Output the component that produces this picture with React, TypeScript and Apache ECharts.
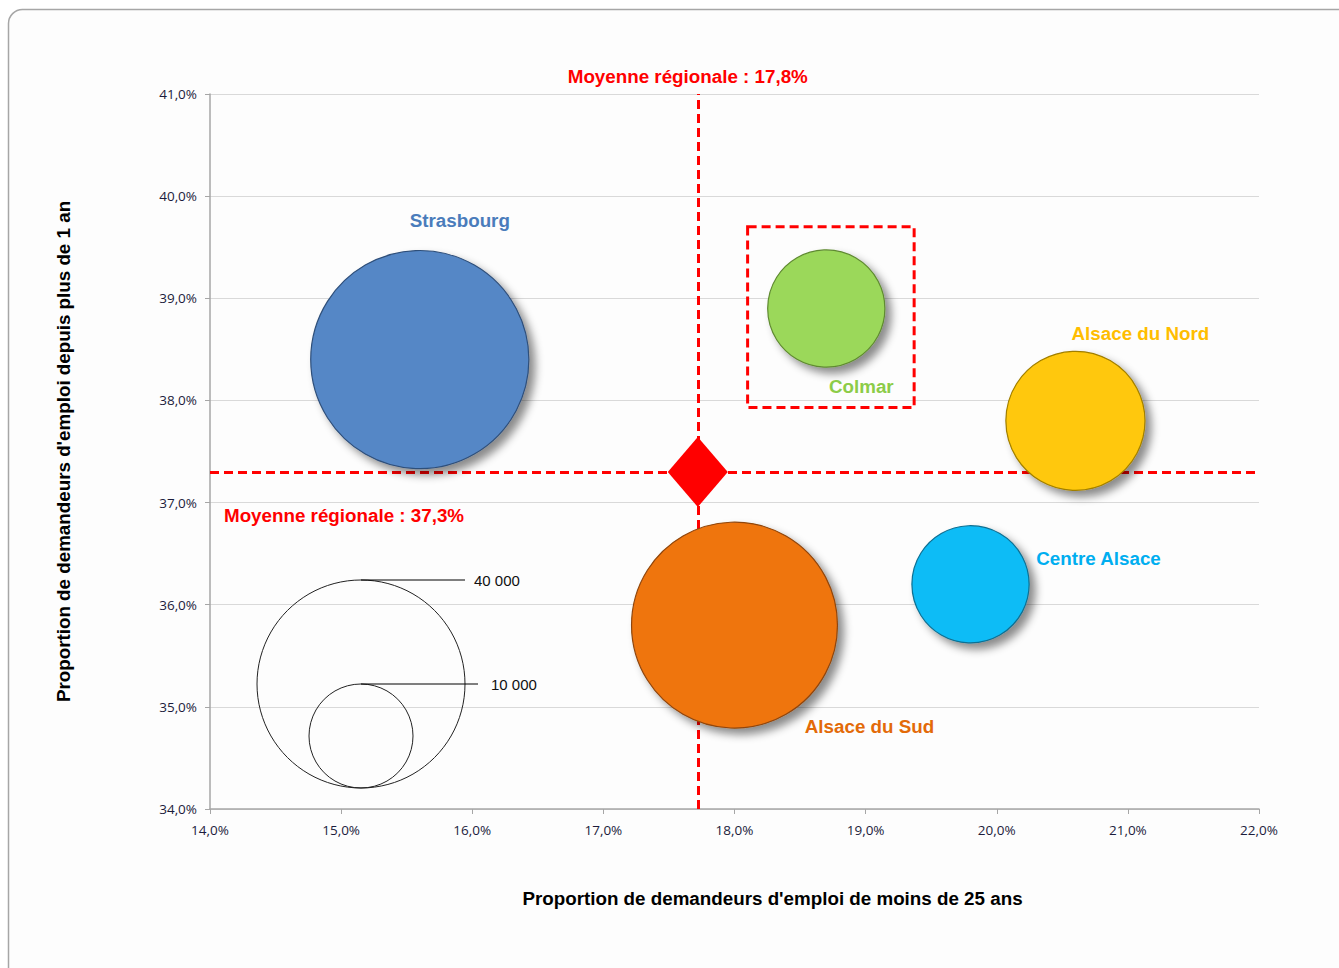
import React, { useEffect, useRef } from 'react';
import * as echarts from 'echarts';

// ---- Data ----
const regionNames = ['Strasbourg', 'Colmar', 'Alsace du Nord', 'Centre Alsace', 'Alsace du Sud'];
const youthShare = [15.6, 18.7, 20.6, 19.8, 18.0]; // % moins de 25 ans
const longTermShare = [38.4, 38.9, 37.8, 36.2, 35.8]; // % depuis plus de 1 an
const jobSeekers = [44000, 12700, 17900, 12700, 39200]; // bubble size
const fillColors = ['#5587c6', '#9bd85a', '#ffc808', '#0abcf6', '#ef7510'];
const borderColors = ['#2f4f7a', '#5f8a30', '#a07e00', '#0a6f92', '#8f4508'];
const labelColors = ['#4a7cbb', '#8ccc48', '#ffbd00', '#00aef0', '#e36a08'];
const labelOffsets: [number, number][] = [[40, -139], [35, 78], [65, -87], [128, -26], [135, 101]];

const meanYouth = 17.72;
const meanYouthLabel = 'Moyenne régionale : 17,8%';
const meanLongTerm = 37.3;
const meanLongTermLabel = 'Moyenne régionale : 37,3%';

const legendValues = [40000, 10000];
const legendLabels = ['40 000', '10 000'];

// Highlight box around Colmar (data coords)
const boxX = [18.1, 19.37];
const boxY = [37.93, 39.7];

const xMin = 14, xMax = 22, yMin = 34, yMax = 41;

const pct = (v: number) => v.toFixed(1).replace('.', ',') + '%';
const radius = (v: number) => 0.52 * Math.sqrt(v);
const FONT = 'Liberation Sans, Arial, sans-serif';
const BIG = 18.8;

export default function App() {
  const ref = useRef<HTMLDivElement>(null);
  useEffect(() => {
    const chart = echarts.init(ref.current!, null, { renderer: 'svg' });

    const bubbleData = regionNames.map((name, i) => ({
      name,
      value: [youthShare[i], longTermShare[i], jobSeekers[i]],
      symbolSize: 2 * radius(jobSeekers[i]),
      itemStyle: {
        color: fillColors[i],
        opacity: 1,
        borderColor: borderColors[i],
        borderWidth: 1.2,
        shadowBlur: 8,
        shadowOffsetX: 6,
        shadowOffsetY: 6,
        shadowColor: 'rgba(0,0,0,0.45)',
      },
      label: {
        show: true,
        position: 'inside',
        offset: labelOffsets[i],
        formatter: name,
        color: labelColors[i],
        fontFamily: FONT,
        fontWeight: 'bold',
        fontSize: BIG,
      },
    }));

    // legend circles (decoration)
    const lcx = 361;
    const lbottom = 788;
    const legendGraphics: any[] = [];
    legendValues.forEach((v, i) => {
      const r = radius(v);
      const cy = lbottom - r;
      const top = cy - r;
      const lineEnd = i === 0 ? 465 : 478;
      legendGraphics.push({
        type: 'circle', shape: { cx: lcx, cy, r }, z: 10,
        style: { fill: 'none', stroke: '#222', lineWidth: 1 },
      });
      legendGraphics.push({
        type: 'line', shape: { x1: lcx, y1: top, x2: lineEnd, y2: top }, z: 10,
        style: { stroke: '#000', lineWidth: 1 },
      });
      legendGraphics.push({
        type: 'text', x: lineEnd + (i === 0 ? 9 : 13), y: top, z: 10,
        style: {
          text: legendLabels[i], fill: '#111', font: '15px "Liberation Sans", Arial, sans-serif',
          verticalAlign: 'middle', align: 'left',
        },
      });
    });

    const option: any = {
      animation: false,
      backgroundColor: '#ffffff',
      grid: { left: 210, right: 80, top: 94, bottom: 159 },
      graphic: [
        {
          type: 'rect', z: -10, silent: true,
          shape: { x: 8.5, y: 9.5, width: 1400, height: 1000, r: 14 },
          style: { fill: '#fdfdfd', stroke: '#a6a6a6', lineWidth: 1.5 },
        },
        ...legendGraphics,
      ],
      xAxis: {
        type: 'value', min: xMin, max: xMax, interval: 1,
        name: "Proportion de demandeurs d'emploi de moins de 25 ans",
        nameLocation: 'middle', nameGap: 80,
        nameTextStyle: { fontFamily: FONT, fontWeight: 'bold', fontSize: BIG, color: '#000', padding: [0, 0, 0, 76] },
        axisLine: { show: true, onZero: false, lineStyle: { color: '#a6a6a6', width: 1.5 } },
        axisTick: { show: true, inside: false, length: 5, lineStyle: { color: '#a6a6a6' } },
        axisLabel: { formatter: pct, color: '#1c1c3c', fontFamily: 'Open Sans, sans-serif', fontSize: 13.5, margin: 14 },
        splitLine: { show: false },
      },
      yAxis: {
        type: 'value', min: yMin, max: yMax, interval: 1,
        name: "Proportion de demandeurs d'emploi depuis plus de 1 an",
        nameLocation: 'middle', nameGap: 137,
        nameTextStyle: { fontFamily: FONT, fontWeight: 'bold', fontSize: BIG, color: '#000' },
        axisLine: { show: true, onZero: false, lineStyle: { color: '#a6a6a6', width: 1.5 } },
        axisTick: { show: true, inside: false, length: 5, lineStyle: { color: '#a6a6a6' } },
        axisLabel: { formatter: pct, color: '#1c1c3c', fontFamily: 'Open Sans, sans-serif', fontSize: 13.5, margin: 13 },
        splitLine: { show: true, lineStyle: { color: '#d9d9d9', width: 1 } },
      },
      series: [
        {
          type: 'scatter',
          name: 'Bassins',
          z: 3,
          data: bubbleData,
          markArea: {
            silent: true,
            itemStyle: { color: 'rgba(0,0,0,0)', borderColor: '#ff0000', borderWidth: 3, borderType: [9, 5] },
            data: [[{ coord: [boxX[0], boxY[1]] }, { coord: [boxX[1], boxY[0]] }]],
          },
        },
        {
          type: 'scatter',
          name: 'Moyenne',
          z: 4,
          symbol: 'diamond',
          symbolSize: [60, 70],
          itemStyle: { color: '#ff0000', opacity: 1 },
          data: [[meanYouth, meanLongTerm]],
          markLine: {
            z: 1,
            silent: true,
            symbol: ['none', 'none'],
            lineStyle: { color: '#ff0000', width: 3, type: [9, 5] },
            data: [
              {
                xAxis: meanYouth,
                label: {
                  show: true, position: 'end', distance: 8, formatter: meanYouthLabel, offset: [-10, 0],
                  color: '#ff0000', fontFamily: FONT, fontWeight: 'bold', fontSize: BIG,
                },
              },
              {
                yAxis: meanLongTerm,
                label: {
                  show: true, position: 'insideStartBottom', distance: [14, 34], formatter: meanLongTermLabel,
                  color: '#ff0000', fontFamily: FONT, fontWeight: 'bold', fontSize: BIG,
                },
              },
            ],
          },
        },
      ],
    };
    chart.setOption(option);
    return () => chart.dispose();
  }, []);
  return <div ref={ref} style={{ position: 'fixed', left: 0, top: 0, width: 1339, height: 968 }} />;
}
